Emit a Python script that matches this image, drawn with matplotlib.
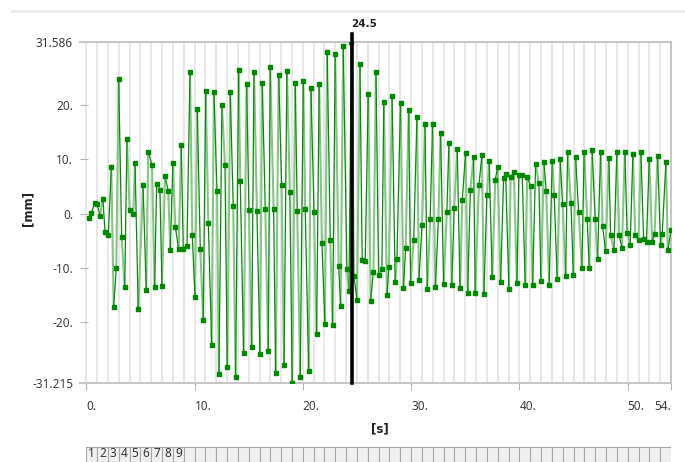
import numpy as np
import matplotlib
matplotlib.use("Agg")
import matplotlib.pyplot as plt
from matplotlib.ticker import MultipleLocator
from matplotlib.lines import Line2D

# probe result: deformation [mm] over time [s]
time_s = [
    0.25, 0.46, 0.80, 1.02, 1.26, 1.54, 1.73, 2.03, 2.31, 2.53,
    2.77, 2.99, 3.27, 3.55, 3.76, 4.00, 4.34, 4.50, 4.80, 5.24,
    5.54, 5.72, 6.07, 6.31, 6.50, 6.80, 6.99, 7.27, 7.57, 7.76,
    8.00, 8.22, 8.53, 8.77, 8.96, 9.30, 9.58, 9.79, 10.04, 10.25,
    10.53, 10.80, 11.03, 11.27, 11.58, 11.79, 12.07, 12.25, 12.53, 12.81,
    13.02, 13.30, 13.57, 13.79, 14.07, 14.22, 14.53, 14.81, 15.02, 15.27,
    15.49, 15.76, 16.04, 16.25, 16.53, 16.80, 16.99, 17.30, 17.49, 17.77,
    18.04, 18.26, 18.53, 18.80, 19.02, 19.30, 19.48, 19.76, 20.04, 20.22,
    20.54, 20.75, 21.03, 21.27, 21.51, 21.76, 22.04, 22.25, 22.53, 22.75,
    22.99, 23.31, 23.49, 23.73, 24.07, 24.26, 24.49, 24.72, 25.00, 25.27,
    25.48, 25.76, 26.04, 26.26, 26.52, 26.75, 27.00, 27.30, 27.48, 27.77,
    27.95, 28.24, 28.53, 28.69, 29.02, 29.29, 29.49, 29.78, 29.95, 30.24,
    30.54, 30.72, 31.01, 31.28, 31.49, 31.76, 31.98, 32.24, 32.52, 32.72,
    33.00, 33.30, 33.49, 33.75, 33.98, 34.26, 34.52, 34.72, 35.03, 35.22,
    35.47, 35.77, 35.92, 36.26, 36.54, 36.72, 37.00, 37.21, 37.49, 37.77,
    37.99, 38.26, 38.54, 38.73, 39.03, 39.19, 39.49, 39.77, 39.95, 40.26,
    40.54, 40.72, 41.03, 41.22, 41.50, 41.80, 41.99, 42.26, 42.48, 42.75,
    43.03, 43.21, 43.49, 43.77, 43.99, 44.27, 44.45, 44.76, 44.98, 45.19,
    45.47, 45.77, 45.98, 46.26, 46.45, 46.72, 47.00, 47.22, 47.50, 47.68,
    47.96, 48.26, 48.42, 48.73, 49.00, 49.22, 49.47, 49.74, 49.95, 50.23,
    50.48, 50.69, 51.00, 51.22, 51.47, 51.74, 51.99, 52.26, 52.48, 52.76,
    53.04, 53.19, 53.53, 53.71, 54.00]

disp_mm = [
    -0.85, 0.07, 2.0, 1.66, -0.37, 2.65, -3.4, -4.05, 8.5, -17.2,
    -10.1, 24.85, -4.4, -13.5, 13.8, 0.7, -0.1, 9.35, -17.6, 5.2,
    -14.1, 11.4, 8.9, -13.5, 5.5, 4.4, -13.3, 6.95, 4.1, -6.8,
    9.35, -2.4, -6.6, 12.6, -6.6, -5.9, 26.1, -4.05, -15.4, 19.2,
    -6.6, -19.7, 22.6, -1.66, -24.2, 22.4, 4.1, -29.6, 19.9, 8.9,
    -28.2, 22.3, 1.3, -30.1, 26.5, 6.0, -25.6, 23.9, 0.7, -24.6,
    26.1, 0.44, -25.8, 24.1, 0.87, -25.3, 26.9, 0.87, -29.3, 25.6,
    5.2, -27.9, 26.3, 3.9, -31.215, 24.1, 0.37, -30.2, 24.4, 0.87,
    -29.0, 23.1, 0.26, -22.1, 23.9, -5.35, -20.4, 29.7, -4.9, -20.5,
    29.4, -9.65, -17.0, 30.9, -10.3, -14.3, 31.586, -11.6, -15.9, 27.6,
    -8.5, -8.8, 22.1, -16.05, -10.7, 26.1, -11.3, -10.3, 20.6, -15.1,
    -9.9, 21.6, -12.7, -8.35, 20.4, -13.8, -6.4, 19.0, -12.8, -4.9,
    17.8, -12.2, -2.1, 16.4, -13.9, -1.0, 16.4, -13.5, -1.0, 14.9,
    -13.0, 0.3, 13.0, -13.2, 1.1, 11.9, -13.8, 2.4, 11.1, -14.6,
    4.4, 10.4, -14.6, 5.2, 10.8, -14.8, 3.45, 9.7, -11.7, 6.2,
    8.5, -12.7, 6.5, 7.2, -13.9, 6.7, 7.6, -12.8, 7.0, 7.0,
    -13.1, 6.8, 5.0, -13.1, 9.2, 5.6, -12.4, 9.5, 4.1, -13.1,
    9.7, 3.5, -12.0, 10.0, 1.7, -11.5, 11.4, 2.0, -11.4, 10.4,
    0.3, -10.1, 11.4, -1.0, -10.1, 11.7, -1.0, -8.3, 11.4, -2.3,
    -6.9, 10.3, -3.9, -6.8, 11.3, -4.05, -6.4, 11.3, -3.6, -5.8,
    10.9, -4.05, -4.85, 11.3, -4.7, -5.2, 10.1, -5.2, -3.75, 10.6,
    -5.8, -3.8, 9.5, -6.75, -3.1]

cursor_t = 24.5
x_ticks = [0, 10, 20, 30, 40, 50, 54]
x_labels = ["0.", "10.", "20.", "30.", "40.", "50.", "54."]
y_ticks = [-31.215, -20, -10, 0, 10, 20, 31.586]
y_labels = ["-31.215", "-20.", "-10.", "0.", "10.", "20.", "31.586"]
steps = list(range(1, 55))

plt.rcParams['font.family'] = ['Noto Sans', 'DejaVu Sans']
BOLD = ['DejaVu Sans']

W, H = 685, 462
fig = plt.figure(figsize=(W / 100, H / 100), dpi=100)
ax = fig.add_axes([80 / W, 79 / H, 591 / W, 341 / H])

t = np.array(time_s)
d = np.array(disp_mm)

# alternate light/dark segments like the original viewer
for i in range(len(t) - 1):
    if i % 2 == 0:
        ax.plot(t[i:i + 2], d[i:i + 2], color="#84c684", lw=1.5, zorder=2)
    else:
        ax.plot(t[i:i + 2], d[i:i + 2], color="#0a880a", lw=0.9, zorder=3)
ax.plot(t, d, ls="none", marker="s", ms=2.5, color="#008800", zorder=4)

ax.set_xlim(-0.58, 54)
ax.set_ylim(min(disp_mm), max(disp_mm))

ax.set_xticks(x_ticks, x_labels)
ax.set_yticks(y_ticks, y_labels)
for i, lab in enumerate(ax.get_xticklabels()):
    lab.set_ha("right" if i == len(x_ticks) - 1 else "left")
ax.xaxis.set_minor_locator(MultipleLocator(1))
ax.tick_params(axis="x", which="major", direction="out", length=5, color="#b4b4b4",
               pad=7, labelsize=8.5, labelcolor="#3c3c3c")
ax.tick_params(axis="x", which="minor", length=0)
ax.tick_params(axis="y", direction="in", length=6, color="#b4b4b4",
               pad=5, labelsize=8.5, labelcolor="#3c3c3c")

ax.grid(True, which="both", axis="x", color="#e6e6e6", lw=1.3)
ax.set_axisbelow(True)

ax.spines["left"].set_visible(False)
for s in ["top", "bottom", "right"]:
    ax.spines[s].set_color("#c6c6c6")
    ax.spines[s].set_linewidth(1.4)

# time cursor
ax.axvline(cursor_t, ymin=0, ymax=1.024, color="black", lw=2.6, clip_on=False, zorder=6)
ax.text(cursor_t, 1.053, "24.5", transform=ax.get_xaxis_transform(), ha="left",
        va="center", fontsize=7.5, fontweight="bold", color="#222222", family=BOLD)

fig.text(28 / W, 1 - 208 / H, "[mm]", rotation=90, ha="center", va="center",
         fontsize=8.5, fontweight="bold", color="#222222", family=BOLD)
fig.text(380 / W, 1 - 429 / H, "[s]", ha="center", va="center",
         fontsize=8.5, fontweight="bold", color="#222222", family=BOLD)

# toolbar border on top
fig.add_artist(Line2D([12 / W, 1], [1 - 11 / H, 1 - 11 / H], color="#ececec", lw=2))

# step tabs under the chart
sax = fig.add_axes([80 / W, 0, 591 / W, 17 / H])
sax.set_xlim(-0.58, 54)
sax.set_ylim(-0.1, 1.0)
sax.bar(np.array(steps) - 0.5, 1.0, width=1.0, bottom=-0.1, color="#f0f0f0",
        edgecolor="#a8a8a8", lw=0.8)
for s in steps[:9]:
    sax.text(s - 0.5, 0.42, str(s), ha="center", va="center", fontsize=8.5, color="#333333")
sax.axis("off")

fig.savefig("out.png", dpi=100)
